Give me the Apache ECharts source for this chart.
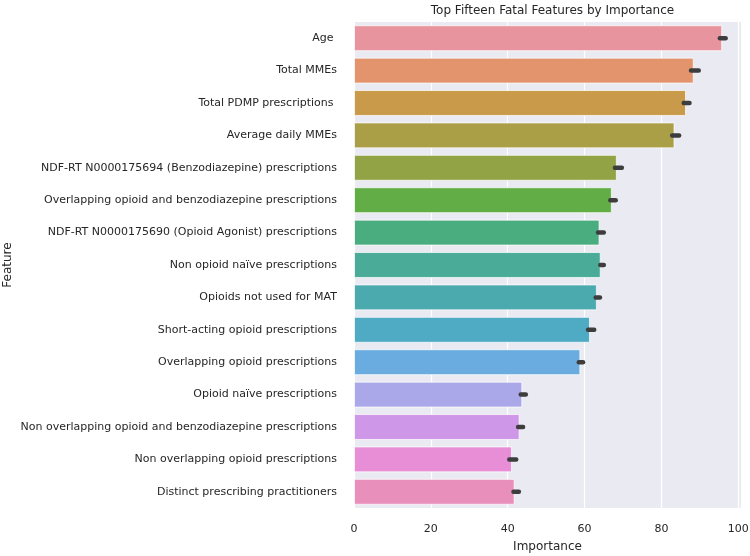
<!DOCTYPE html>
<html>
<head>
<meta charset="utf-8">
<script src="https://cdn.jsdelivr.net/npm/echarts@6/dist/echarts.min.js"></script>
<style>
html,body{margin:0;padding:0;background:#fff;}
#chart{width:750px;height:556px;}
</style>
</head>
<body>
<div id="chart"></div>
<script>
const categories = [
  "Age ",
  "Total MMEs",
  "Total PDMP prescriptions ",
  "Average daily MMEs",
  "NDF-RT N0000175694 (Benzodiazepine) prescriptions",
  "Overlapping opioid and benzodiazepine prescriptions",
  "NDF-RT N0000175690 (Opioid Agonist) prescriptions",
  "Non opioid naïve prescriptions",
  "Opioids not used for MAT",
  "Short-acting opioid prescriptions",
  "Overlapping opioid prescriptions",
  "Opioid naïve prescriptions",
  "Non overlapping opioid and benzodiazepine prescriptions",
  "Non overlapping opioid prescriptions",
  "Distinct prescribing practitioners"
];
const importance = [95.8, 88.4, 86.4, 83.4, 68.4, 67.1, 63.9, 64.2, 63.2, 61.4, 58.9, 43.8, 43.1, 41.1, 41.8];
const errLow  = [95.2, 87.7, 85.8, 82.8, 67.9, 66.7, 63.5, 64.1, 62.9, 60.9, 58.5, 43.4, 42.7, 40.4, 41.5];
const errHigh = [96.7, 89.7, 87.3, 84.6, 69.7, 68.1, 65.0, 65.0, 64.0, 62.5, 59.6, 44.7, 44.0, 42.2, 42.9];
const xTicks = [0, 20, 40, 60, 80, 100];

const palette = ["#e8949f","#e3946c","#c99a4a","#aa9e46","#92a346","#62ad46","#4aad80","#4aab99","#4aaaae","#4faac4","#6aace0","#aba8ea","#cf97e8","#e78ed7","#e890bb"];

const chart = echarts.init(document.getElementById('chart'), null, {renderer: 'canvas'});
const font = 'DejaVu Sans';
const txt = '#262626';

chart.setOption({
  animation: false,
  backgroundColor: '#ffffff',
  title: {
    text: 'Top Fifteen Fatal Features by Importance',
    left: 547.5,
    textAlign: 'center',
    top: 0,
    textStyle: {fontFamily: font, fontSize: 12, fontWeight: 'normal', color: txt}
  },
  graphic: [{
    type: 'text',
    x: 8, y: 265,
    rotation: Math.PI / 2,
    style: {
      text: 'Feature',
      font: '12px "DejaVu Sans"',
      fill: txt,
      align: 'center',
      verticalAlign: 'middle'
    }
  }],
  grid: {
    left: 354, right: 9, top: 22, bottom: 48,
    containLabel: false,
    outerBoundsMode: 'none',
    show: true, backgroundColor: '#EAEAF2', borderWidth: 0
  },
  xAxis: {
    type: 'value',
    min: 0, max: 100.7, interval: 20,
    name: 'Importance',
    nameLocation: 'middle',
    nameGap: 33,
    nameTextStyle: {fontFamily: font, fontSize: 12, color: txt},
    axisLine: {show: false},
    axisTick: {show: false},
    splitLine: {show: true, lineStyle: {color: '#ffffff', width: 1.2}},
    axisLabel: {
      fontFamily: font, fontSize: 11, color: txt, margin: 16,
      showMaxLabel: false,
      formatter: v => (xTicks.indexOf(v) >= 0 ? String(v) : '')
    }
  },
  yAxis: {
    type: 'category',
    data: categories,
    inverse: true,
    axisLine: {show: false},
    axisTick: {show: false},
    splitLine: {show: false},
    axisLabel: {fontFamily: font, fontSize: 11, color: txt, margin: 17}
  },
  series: [
    {
      type: 'bar',
      data: importance,
      barWidth: '80%',
      itemStyle: {
        color: p => palette[p.dataIndex],
        borderColor: 'rgba(255,255,255,0.7)',
        borderWidth: 1
      }
    },
    {
      type: 'custom',
      data: categories.map((c, i) => [errLow[i], errHigh[i], i]),
      encode: {x: [0, 1], y: 2},
      z: 5,
      renderItem: function (params, api) {
        const idx = api.value(2);
        const a = api.coord([api.value(0), idx]);
        const b = api.coord([api.value(1), idx]);
        return {
          type: 'line',
          shape: {x1: a[0], y1: a[1], x2: b[0], y2: b[1]},
          style: {stroke: '#3d3d3d', lineWidth: 4.5, lineCap: 'round'}
        };
      }
    }
  ]
});
</script>
</body>
</html>
